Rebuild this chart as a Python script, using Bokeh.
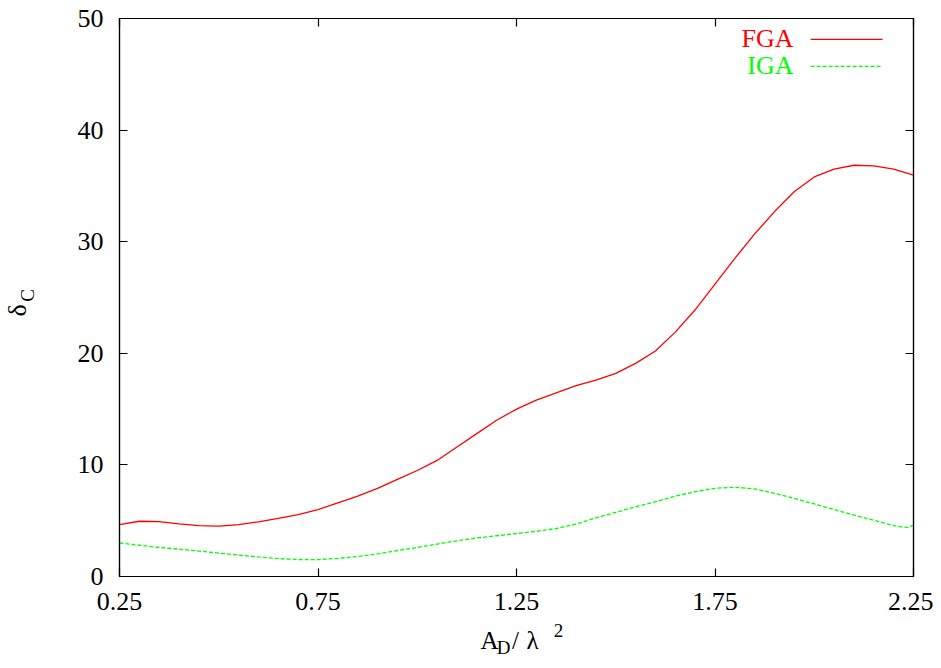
import math
from bokeh.plotting import figure
from bokeh.models import LinearAxis, FixedTicker, Label
from bokeh.embed import file_html
from bokeh.resources import INLINE

# ---- data ----
X_TICKS = [0.25, 0.75, 1.25, 1.75, 2.25]
Y_TICKS = [0, 10, 20, 30, 40, 50]

FGA_X = [0.25, 0.30, 0.35, 0.40, 0.45, 0.50, 0.55, 0.60, 0.65, 0.70, 0.75, 0.80,
         0.85, 0.90, 0.95, 1.00, 1.05, 1.10, 1.15, 1.20, 1.25, 1.30, 1.40, 1.45,
         1.50, 1.55, 1.60, 1.65, 1.70, 1.75, 1.80, 1.85, 1.90, 1.95, 2.00, 2.05,
         2.10, 2.15, 2.20, 2.25]
FGA_Y = [4.65, 4.95, 4.92, 4.72, 4.55, 4.52, 4.65, 4.9, 5.2, 5.55, 6.0, 6.6,
         7.2, 7.9, 8.7, 9.5, 10.4, 11.6, 12.8, 14.0, 15.0, 15.8, 17.1, 17.6,
         18.2, 19.1, 20.2, 21.9, 23.9, 26.2, 28.5, 30.7, 32.7, 34.5, 35.8, 36.5,
         36.85, 36.8, 36.5, 35.96]

IGA_X = [0.25, 0.30, 0.35, 0.40, 0.45, 0.50, 0.55, 0.60, 0.65, 0.70, 0.75, 0.80,
         0.85, 0.90, 0.95, 1.00, 1.05, 1.10, 1.15, 1.20, 1.25, 1.30, 1.35, 1.40,
         1.45, 1.50, 1.55, 1.60, 1.65, 1.70, 1.75, 1.80, 1.85, 1.90, 1.95, 2.00,
         2.05, 2.10, 2.15, 2.20, 2.235, 2.25]
IGA_Y = [3.0, 2.8, 2.6, 2.45, 2.28, 2.1, 1.92, 1.75, 1.6, 1.52, 1.52, 1.62,
         1.8, 2.02, 2.33, 2.6, 2.9, 3.2, 3.45, 3.65, 3.85, 4.05, 4.3, 4.7,
         5.25, 5.75, 6.25, 6.7, 7.2, 7.6, 7.9, 8.0, 7.85, 7.45, 7.0, 6.5,
         6.0, 5.5, 5.05, 4.55, 4.4, 4.6]

SERIES = [("FGA", FGA_X, FGA_Y, "#ff0000", "solid"),
          ("IGA", IGA_X, IGA_Y, "#00ff00", "4 2")]

X_LABEL_PARTS = [("A", "main"), ("D", "sub"), ("/", "main"), ("λ", "main"), ("2", "sup")]
Y_LABEL_PARTS = [("δ", "main"), ("C", "sub")]

# ---- layout ----
X0, X1, Y0, Y1 = 0.25, 2.25, 0.0, 50.0
FRAME_W, FRAME_H = 795, 559
FONT = "Liberation Serif"
px_x = (X1 - X0) / FRAME_W
px_y = (Y1 - Y0) / FRAME_H
XC = (X0 + X1) / 2
YC = (Y0 + Y1) / 2

p = figure(width=933, height=660, x_range=(X0, X1), y_range=(Y0, Y1),
           output_backend="svg", toolbar_location=None,
           min_border_left=118, min_border_right=20,
           min_border_top=18, min_border_bottom=83)
p.xgrid.visible = False
p.ygrid.visible = False
p.outline_line_color = "black"
p.outline_line_width = 1.2
p.background_fill_color = "white"
p.border_fill_color = "white"

def style_axis(ax, ticks, labels=True):
    ax.ticker = FixedTicker(ticks=ticks)
    ax.minor_tick_line_color = None
    ax.major_tick_in = 8
    ax.major_tick_out = 0
    ax.axis_line_color = "black"
    ax.axis_line_width = 1.2
    ax.major_tick_line_color = "black"
    ax.major_tick_line_width = 1.2
    if labels:
        ax.major_label_text_font = FONT
        ax.major_label_text_font_size = "26px"
        ax.major_label_text_color = "black"
    else:
        ax.major_label_text_font_size = "0px"
        ax.major_label_standoff = 0

style_axis(p.xaxis[0], X_TICKS)
p.xaxis[0].major_label_standoff = 16
style_axis(p.yaxis[0], Y_TICKS)
p.yaxis[0].major_label_standoff = 16

top = LinearAxis()
style_axis(top, X_TICKS, labels=False)
p.add_layout(top, "above")
right = LinearAxis()
style_axis(right, Y_TICKS, labels=False)
p.add_layout(right, "right")

for name, xs, ys, col, dash in SERIES:
    p.line(xs, ys, line_color=col, line_width=1.3, line_dash=dash)

# ---- legend (gnuplot style: text then sample) ----
LEG_TEXT_RIGHT = -120
LEG_LINE_L, LEG_LINE_R = -103, -31
LEG_ROWS = [21, 48]
for (name, xs, ys, col, dash), row in zip(SERIES, LEG_ROWS):
    p.add_layout(Label(x=X1, y=Y1, x_offset=LEG_TEXT_RIGHT, y_offset=-(row - 1),
                       text=name, text_font=FONT, text_font_size="26px",
                       text_color=col, text_align="right", text_baseline="alphabetic"))
    yy = Y1 - row * px_y
    p.line([X1 + LEG_LINE_L * px_x, X1 + LEG_LINE_R * px_x], [yy, yy],
           line_color=col, line_width=1.3, line_dash=dash)

# ---- axis titles built from label-only axes (allows sub/superscripts) ----
def label_axis(side, parts_px, font_size, standoff, orientation="horizontal"):
    ax = LinearAxis()
    if side in ("below", "above"):
        ticks = [XC + d * px_x for _, d in parts_px]
    else:
        ticks = [YC + d * px_y for _, d in parts_px]
    ax.ticker = FixedTicker(ticks=ticks)
    ax.major_label_overrides = {t: s for t, (s, _) in zip(ticks, parts_px)}
    ax.axis_line_color = None
    ax.major_tick_line_color = None
    ax.minor_tick_line_color = None
    ax.major_tick_in = 0
    ax.major_tick_out = 0
    ax.major_label_standoff = standoff
    ax.major_label_text_font = FONT
    ax.major_label_text_font_size = font_size
    ax.major_label_text_color = "black"
    ax.major_label_orientation = orientation
    p.add_layout(ax, side)
    return ax

# x title: A_D/λ^2  (offsets in px from the frame centre)
X_POS = {"A": -27, "D": -13, "/": -1, "λ": 16, "2": 42}
sup = [(t, X_POS[t]) for t, k in X_LABEL_PARTS if k == "sup"]
main = [(t, X_POS[t]) for t, k in X_LABEL_PARTS if k == "main"]
sub = [(t, X_POS[t]) for t, k in X_LABEL_PARTS if k == "sub"]
label_axis("below", sup, "19px", 11)
label_axis("below", main, "25px", -13)
label_axis("below", sub, "19px", -20)

# y title: δ_C (rotated); offsets in px above the frame centre
Y_POS = {"δ": -13, "C": 2}
label_axis("left", [(t, Y_POS[t]) for t, k in Y_LABEL_PARTS if k == "sub"], "19px", 36, "vertical")
label_axis("left", [(t, Y_POS[t]) for t, k in Y_LABEL_PARTS if k == "main"], "26px", -18, "vertical")

open("out.html", "w").write(file_html(p, INLINE))
